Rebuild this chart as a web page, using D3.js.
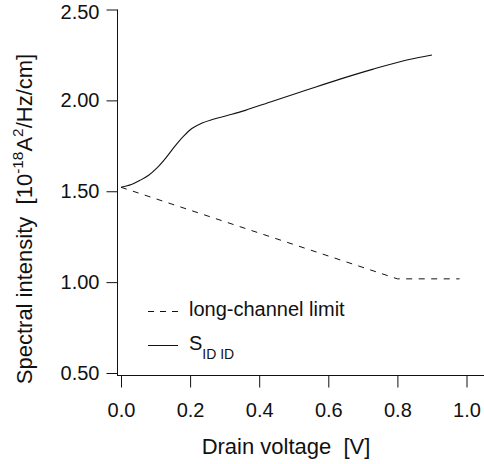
<!DOCTYPE html>
<html>
<head>
  <script src="https://d3js.org/d3.v7.min.js"></script>
  <style>
    body { margin: 0; padding: 0; background: white; }
    svg { display: block; font-family: 'Liberation Sans', Arial, sans-serif; }
  </style>
</head>
<body>
  <svg id="chart" width="484" height="464"></svg>
  <script>
    // long-channel limit (dashed)
    const limitV = [0, 0.8, 0.98];
    const limitS = [1.522, 1.018, 1.018];

    // S_ID ID (solid)
    const sidV = [0, 0.03, 0.055, 0.08, 0.105, 0.13, 0.155, 0.18, 0.205, 0.235, 0.267, 0.31, 0.36, 0.441, 0.537, 0.634, 0.73, 0.827, 0.9];
    const sidS = [1.522, 1.537, 1.560, 1.588, 1.630, 1.684, 1.745, 1.800, 1.845, 1.876, 1.896, 1.918, 1.945, 1.997, 2.057, 2.117, 2.172, 2.222, 2.25];

    const xTicks = [0, 0.2, 0.4, 0.6, 0.8, 1.0];
    const yTicks = [0.5, 1.0, 1.5, 2.0, 2.5];

    const svg = d3.select("#chart");
    const x = d3.scaleLinear().domain([0, 1]).range([121, 466.5]);
    const y = d3.scaleLinear().domain([0.5, 2.5]).range([373, 9.5]);

    // axes
    const yAxis = svg.append("g")
      .attr("transform", "translate(117.5,0)")
      .call(d3.axisLeft(y).tickValues(yTicks).tickSize(11).tickSizeOuter(0)
        .tickPadding(7).tickFormat(d3.format(".2f")));
    yAxis.select(".domain").remove();
    // top label sits a little lower, as in the original
    yAxis.selectAll(".tick text").filter(d => d === 2.5).attr("dy", "0.45em");

    const xAxis = svg.append("g")
      .attr("transform", "translate(0,375.5)")
      .call(d3.axisBottom(x).tickValues(xTicks).tickSize(12).tickSizeOuter(0)
        .tickPadding(15).tickFormat(d3.format(".1f")));
    xAxis.select(".domain").remove();

    svg.selectAll(".tick line").attr("stroke", "#111");
    svg.selectAll(".tick text").attr("font-size", 20).attr("fill", "#111")
      .attr("font-family", "'Liberation Sans', Arial, sans-serif");

    svg.append("line").attr("x1", 117.5).attr("x2", 117.5).attr("y1", 9.5).attr("y2", 375.5)
      .attr("stroke", "#111");
    svg.append("line").attr("x1", 117).attr("x2", 484).attr("y1", 375.5).attr("y2", 375.5)
      .attr("stroke", "#111");

    // curves
    const line = d3.line().x(d => x(d[0])).y(d => y(d[1]));
    const smooth = d3.line().x(d => x(d[0])).y(d => y(d[1])).curve(d3.curveCatmullRom.alpha(0.5));

    svg.append("path")
      .attr("d", line(limitV.map((v, i) => [v, limitS[i]])))
      .attr("fill", "none").attr("stroke", "#111").attr("stroke-width", 1)
      .attr("stroke-dasharray", "6,6.5");

    svg.append("path")
      .attr("d", smooth(sidV.map((v, i) => [v, sidS[i]])))
      .attr("fill", "none").attr("stroke", "#111").attr("stroke-width", 1.1);

    // legend
    svg.append("line").attr("x1", 148).attr("x2", 178).attr("y1", 311.5).attr("y2", 311.5)
      .attr("stroke", "#111").attr("stroke-dasharray", "6,6");
    svg.append("line").attr("x1", 148).attr("x2", 178).attr("y1", 345.5).attr("y2", 345.5)
      .attr("stroke", "#111");
    svg.append("text").attr("x", 189).attr("y", 316).attr("font-size", 20).attr("fill", "#111")
      .text("long-channel limit");
    const s = svg.append("text").attr("x", 189).attr("y", 350).attr("font-size", 20).attr("fill", "#111");
    s.append("tspan").text("S");
    s.append("tspan").attr("font-size", 14).attr("dy", 9).text("ID ID");

    // axis titles
    svg.append("text").attr("x", 286).attr("y", 453.5).attr("text-anchor", "middle")
      .attr("font-size", 22).attr("fill", "#111").attr("xml:space", "preserve")
      .text("Drain voltage  [V]");

    const yt = svg.append("text")
      .attr("transform", "translate(32,219) rotate(-90)")
      .attr("text-anchor", "middle").attr("font-size", 22).attr("fill", "#111")
      .attr("xml:space", "preserve");
    yt.append("tspan").text("Spectral intensity  [10");
    yt.append("tspan").attr("font-size", 15.4).attr("dy", -9).text("-18");
    yt.append("tspan").attr("dy", 9).text("A");
    yt.append("tspan").attr("font-size", 15.4).attr("dy", -9).text("2");
    yt.append("tspan").attr("dy", 9).text("/Hz/cm]");
  </script>
</body>
</html>
